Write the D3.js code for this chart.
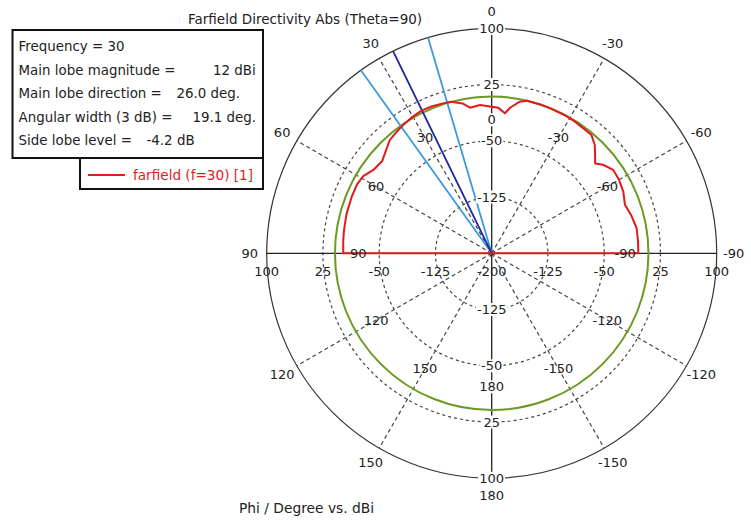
<!DOCTYPE html>
<html>
<head>
<meta charset="utf-8">
<script src="https://cdn.jsdelivr.net/npm/d3@7"></script>
<style>
  body { margin: 0; background: #fff; }
  svg { display: block; font-family: "DejaVu Sans", sans-serif; }
</style>
</head>
<body>
<div id="chart"></div>
<script>
// farfield cut, phi in degrees (0 = up, positive to the left), value in dBi
const phiDeg = [90, 85, 81, 75, 68, 63, 59, 55, 50, 46, 42, 38, 35, 30, 26, 22, 18, 15, 11, 8.5,
    4.5, 0, -2.5, -5.4, -7.2, -10.5, -13, -18, -22, -28, -32, -36, -40, -43.5, -46.5, -49, -51.5, -55.5, -60, -65,
    -70, -75, -80, -85, -90];
const dirDbi = [-2.1, -1.3, -0.7, 0.5, 1.3, 1.7, -0.1, -6.9, -9.2, -3.6, 3.1, 5.7, 7.5, 10.5, 12, 11.5, 10.2, 9.3, 3.6, -3.7,
    -1.6, -4.5, -5.6, -12.5, -4.4, 5.6, 8.8, 8.6, 8.4, 8.2, 7.8, 6.7, 6.5, -0.4, -9.9, -17.3, -10.3, -3.5, -4, -6.3,
    -10.9, -7.1, -3.9, -4.2, -4.5];

const radialTicks = [100, 25, -50, -125];
const ringValues = [-125, -50, 25];
const spokeAngles = [30, 60, 120, 150, -30, -60, -120, -150];
const angleLabels = [0, 30, 60, 90, 120, 150, 180, -150, -120, -90, -60, -30];

const mainLobeMag = 12;
const mainLobeDir = 26.0;
const beamWidth = 19.1;

const infoLabels = ["Frequency = 30", "Main lobe magnitude =", "Main lobe direction =", "Angular width (3 dB) =", "Side lobe level ="];
const infoValues = ["", "12 dBi", "26.0 deg.", "19.1 deg.", "-4.2 dB"];
const legendLabel = "farfield (f=30) [1]";

const width = 751;
const height = 520;
const cx = 491.7;
const cy = 253.3;
const R = 225;

const svg = d3.select("#chart")
    .append("svg")
    .attr("width", width)
    .attr("height", height);

svg.append("rect").attr("width", width).attr("height", height).attr("fill", "#fff");

const r = d3.scaleLinear().domain([-200, 100]).range([0, R]);
const toRad = d => -d * Math.PI / 180;
const px = (deg, rad) => -rad * Math.sin(deg * Math.PI / 180);
const py = (deg, rad) => -rad * Math.cos(deg * Math.PI / 180);

const g = svg.append("g").attr("transform", `translate(${cx},${cy})`);

// dotted rings
g.selectAll("circle.ring")
    .data(ringValues)
    .enter()
    .append("circle")
    .attr("class", "ring")
    .attr("r", d => r(d))
    .attr("fill", "none")
    .attr("stroke", "#444")
    .attr("stroke-width", 1.2)
    .attr("stroke-dasharray", "3,3");

// dashed spokes
g.selectAll("line.spoke")
    .data(spokeAngles)
    .enter()
    .append("line")
    .attr("class", "spoke")
    .attr("x1", 0).attr("y1", 0)
    .attr("x2", d => px(d, R))
    .attr("y2", d => py(d, R))
    .attr("stroke", "#444")
    .attr("stroke-width", 1.2)
    .attr("stroke-dasharray", "4,3");

// outer circle
g.append("circle")
    .attr("r", r(100))
    .attr("fill", "none")
    .attr("stroke", "#333")
    .attr("stroke-width", 1.2);

// axes
g.append("line").attr("x1", -R).attr("x2", R).attr("y1", 0).attr("y2", 0)
    .attr("stroke", "#222").attr("stroke-width", 1.3);
g.append("line").attr("x1", 0).attr("x2", 0).attr("y1", -R).attr("y2", R)
    .attr("stroke", "#222").attr("stroke-width", 1.3);

// -3 dB circle
g.append("circle")
    .attr("r", r(mainLobeMag - 3))
    .attr("fill", "none")
    .attr("stroke", "#6b9a22")
    .attr("stroke-width", 2);

// main lobe direction + 3 dB width
const beamLines = [
    { angle: mainLobeDir - beamWidth / 2, color: "#3b9ade" },
    { angle: mainLobeDir + beamWidth / 2, color: "#3b9ade" },
    { angle: mainLobeDir, color: "#23239a" }
];
const radial = d3.lineRadial().angle(d => toRad(d[0])).radius(d => r(d[1]));

g.selectAll("path.beam")
    .data(beamLines)
    .enter()
    .append("path")
    .attr("class", "beam")
    .attr("d", d => radial([[d.angle, -200], [d.angle, 100]]))
    .attr("stroke", d => d.color)
    .attr("stroke-width", 1.8)
    .attr("fill", "none");

// farfield curve, closed back along the horizontal axis
const farfield = phiDeg.map((p, i) => [p, dirDbi[i]]);
g.append("path")
    .attr("d", radial(farfield) + "Z")
    .attr("fill", "none")
    .attr("stroke", "#e31a1c")
    .attr("stroke-width", 2)
    .attr("stroke-linejoin", "round");

function addLabel(parent, x, y, str, withBg) {
    const t = parent.append("text")
        .attr("x", x)
        .attr("y", y)
        .attr("text-anchor", "middle")
        .attr("dominant-baseline", "central")
        .attr("font-size", 13)
        .attr("fill", "#222")
        .text(str);
    if (withBg) {
        const bb = t.node().getBBox();
        parent.insert("rect", () => t.node())
            .attr("x", bb.x - 1).attr("y", bb.y + 1)
            .attr("width", bb.width + 2).attr("height", bb.height - 2)
            .attr("fill", "#fff");
    }
}

const labels = g.append("g");

// radial values on the vertical axis (top and bottom)
radialTicks.forEach(v => {
    addLabel(labels, 0, -r(v), v, true);
    addLabel(labels, 0, r(v), v, true);
});
// radial values under the horizontal axis
radialTicks.forEach(v => {
    addLabel(labels, -r(v), 18.5, v, false);
    addLabel(labels, r(v), 18.5, v, false);
});
addLabel(labels, 0, 18.5, -200, false);

// angle labels, outside and inside
angleLabels.forEach(a => {
    addLabel(labels, px(a, 242), py(a, 242), a, false);
    addLabel(labels, px(a, 133.5), py(a, 133.5), a, a === 0 || a === 180);
});

// title and axis caption
svg.append("text")
    .attr("x", 188)
    .attr("y", 24)
    .attr("font-size", 13.5)
    .attr("fill", "#222")
    .text("Farfield Directivity Abs (Theta=90)");

svg.append("text")
    .attr("x", 239)
    .attr("y", 513)
    .attr("font-size", 13.8)
    .attr("fill", "#222")
    .text("Phi / Degree vs. dBi");

// info box
const info = svg.append("g");
info.append("rect")
    .attr("x", 12.5).attr("y", 30)
    .attr("width", 250.5).attr("height", 128)
    .attr("fill", "#fff")
    .attr("stroke", "#111")
    .attr("stroke-width", 2);

const valueX = [0, 213, 176.5, 192.5, 146.5];
infoLabels.forEach((lab, i) => {
    info.append("text")
        .attr("x", 18.5)
        .attr("y", 51 + i * 23.5)
        .attr("font-size", 13.4)
        .attr("fill", "#222")
        .text(lab);
    if (infoValues[i]) {
        info.append("text")
            .attr("x", valueX[i])
            .attr("y", 51 + i * 23.5)
            .attr("font-size", 13.4)
            .attr("fill", "#222")
            .text(infoValues[i]);
    }
});

// legend box
const legend = svg.append("g");
legend.append("rect")
    .attr("x", 80).attr("y", 158)
    .attr("width", 183).attr("height", 31)
    .attr("fill", "#fff")
    .attr("stroke", "#111")
    .attr("stroke-width", 2);
legend.append("line")
    .attr("x1", 88).attr("x2", 125)
    .attr("y1", 175).attr("y2", 175)
    .attr("stroke", "#e31a1c")
    .attr("stroke-width", 2);
legend.append("text")
    .attr("x", 133)
    .attr("y", 180)
    .attr("font-size", 13.6)
    .attr("fill", "#e31a1c")
    .text(legendLabel);
</script>
</body>
</html>
